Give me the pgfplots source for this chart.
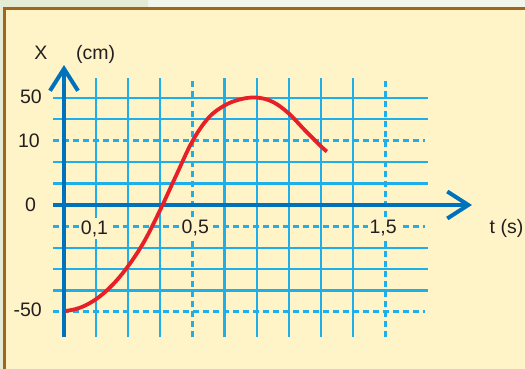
\documentclass[border=0pt]{standalone}
\usepackage{fontspec}
\setmainfont{Liberation Sans}
\usepackage{pgfplots}
\pgfplotsset{compat=1.18}
\usetikzlibrary{arrows.meta}
\definecolor{outerbg}{HTML}{F1F6EA}
\definecolor{outerdk}{HTML}{E5ECD6}
\definecolor{panel}{HTML}{FFF3C8}
\definecolor{framec}{HTML}{A0661C}
\definecolor{gridc}{HTML}{1EAFEA}
\definecolor{axisc}{HTML}{0072BC}
\definecolor{curvec}{HTML}{E62026}
\definecolor{txt}{HTML}{231F20}
\begin{document}
\begin{tikzpicture}[x=1pt,y=1pt]
\useasboundingbox (0,0) rectangle (525,369);
\clip (0,0) rectangle (525,369);
% backgrounds (pixel y -> 369 - y)
\fill[outerbg] (0,0) rectangle (525,369);
\fill[outerdk] (0,360) rectangle (148,369);
\fill[outerdk] (0,0) rectangle (5,369);
\filldraw[fill=panel, draw=framec, line width=3pt] (4.7,360.8) rectangle (600,-40);
% labels
\begin{scope}[every node/.style={inner sep=0pt, text=txt, font=\fontsize{19.5}{23}\selectfont}]
\node[anchor=base] at (41,309) {X};
\node[anchor=base west] at (76,309) {(cm)};
\node[anchor=base east] at (42,265) {50};
\node[anchor=base east] at (40,221) {10};
\node[anchor=base] at (30.5,157) {0};
\node[anchor=base east] at (42,52) {-50};
\node[anchor=base] at (506.5,135) {t (s)};
\end{scope}
\begin{axis}[hide axis, x=32.1pt, y=21.4pt, xmin=-1, xmax=14, ymin=-7, ymax=8,
  anchor=south west, at={(31.9pt,14.2pt)}, clip=false]
% solid grid
\pgfplotsinvokeforeach{5,4,2,1,-2,-3,-4}{
  \draw[gridc, line width=2.2pt] (axis cs:-0.34,#1) -- (axis cs:11.34,#1);
}
\pgfplotsinvokeforeach{1,2,3,5,6,7,8,9}{
  \draw[gridc, line width=2.2pt] (axis cs:#1,-6.17) -- (axis cs:#1,5.93);
}
% dashed grid
\pgfplotsinvokeforeach{3,-1,-5}{
  \draw[gridc, line width=3pt, dash pattern=on 6pt off 4pt] (axis cs:-0.34,#1) -- (axis cs:11.25,#1);
}
\pgfplotsinvokeforeach{4,10}{
  \draw[gridc, line width=3pt, dash pattern=on 6pt off 4pt] (axis cs:#1,-6.17) -- (axis cs:#1,5.93);
}
% x tick labels on the dashed line
\node[fill=panel, inner sep=2pt, text=txt, font=\fontsize{19.5}{23}\selectfont, anchor=base] at (axis cs:0.95,-1.36) {0,1};
\node[fill=panel, inner sep=2pt, text=txt, font=\fontsize{19.5}{23}\selectfont, anchor=base] at (axis cs:4.09,-1.31) {0,5};
\node[fill=panel, inner sep=2pt, text=txt, font=\fontsize{19.5}{23}\selectfont, anchor=base] at (axis cs:9.94,-1.31) {1,5};
% axes
\draw[axisc, line width=4pt, -{Straight Barb[length=21pt,width=27pt]}] (axis cs:-0.34,0) -- (axis cs:12.71,0);
\draw[axisc, line width=4pt, -{Straight Barb[length=22pt,width=28pt]}] (axis cs:0,-6.17) -- (axis cs:0,6.54);
% curve
\addplot[curvec, line width=3.8pt, smooth, tension=0.6, no markers] coordinates {
(0.06,-4.95) (0.5,-4.8) (1.0,-4.4) (1.5,-3.75) (2.0,-2.85) (2.5,-1.7)
(3.0,-0.22) (3.5,1.4) (4.0,2.98) (4.5,4.07) (5.0,4.65) (5.5,4.94)
(6.0,5.02) (6.5,4.82) (7.0,4.28) (7.5,3.5) (8.0,2.75) (8.19,2.5)
};
\end{axis}
\end{tikzpicture}
\end{document}
